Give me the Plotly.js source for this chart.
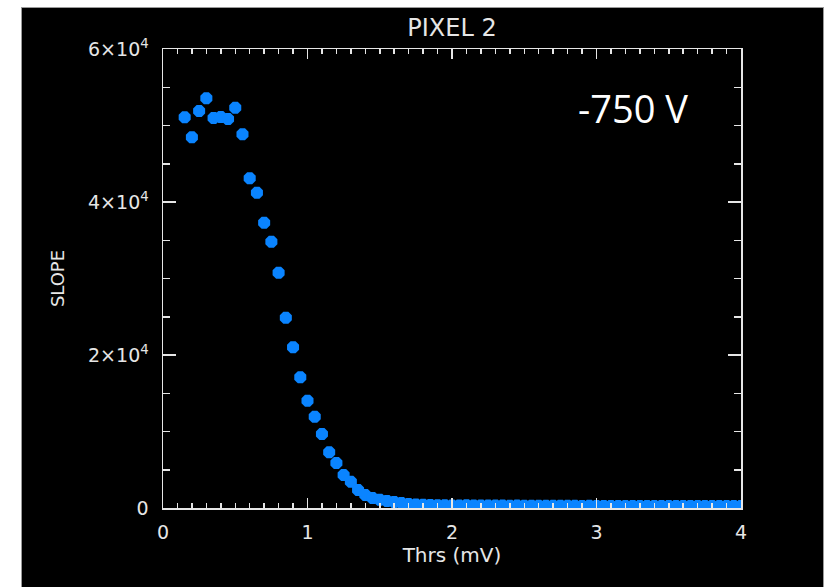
<!DOCTYPE html>
<html>
<head>
<meta charset="utf-8">
<script src="https://cdn.plot.ly/plotly-3.0.1.min.js"></script>
<style>
  html, body { margin: 0; padding: 0; background: #ffffff; width: 825px; height: 587px; overflow: hidden; }
  #frame { position: absolute; left: 22px; top: 8px; width: 801px; height: 579px; background: #000; box-shadow: 0 0 0 1px #9a9a9a; }
  #chart { position: absolute; left: 0; top: 0; width: 801px; height: 579px; }
</style>
</head>
<body>
<div id="frame"><div id="chart"></div></div>
<script>
// Threshold (mV)
const thrs = [
  0.15, 0.20, 0.25, 0.30, 0.35, 0.40, 0.45, 0.50, 0.55, 0.60,
  0.65, 0.70, 0.75, 0.80, 0.85, 0.90, 0.95, 1.00, 1.05, 1.10,
  1.15, 1.20, 1.25, 1.30, 1.35, 1.40, 1.45, 1.50, 1.55, 1.60,
  1.65, 1.70, 1.75, 1.80, 1.85, 1.90, 1.95, 2.00, 2.05, 2.10,
  2.15, 2.20, 2.25, 2.30, 2.35, 2.40, 2.45, 2.50, 2.55, 2.60,
  2.65, 2.70, 2.75, 2.80, 2.85, 2.90, 2.95, 3.00, 3.05, 3.10,
  3.15, 3.20, 3.25, 3.30, 3.35, 3.40, 3.45, 3.50, 3.55, 3.60,
  3.65, 3.70, 3.75, 3.80, 3.85, 3.90, 3.95, 4.00
];
// Slope values
const slope = [
  51070, 48460, 51900, 53560, 50980, 51110, 50850, 52330, 48850, 43100,
  41220, 37290, 34810, 30760, 24880, 21000, 17080, 14030, 11930, 9670,
  7280, 5880, 4310, 3440, 2350, 1700, 1300, 1080, 930, 790,
  650, 520, 460, 420, 380, 360, 350, 340, 330, 350,
  320, 330, 310, 320, 310, 300, 310, 290, 300, 290,
  290, 280, 280, 290, 280, 270, 280, 270, 270, 260,
  270, 260, 260, 270, 260, 260, 250, 260, 260, 250,
  260, 250, 250, 260, 250, 250, 250, 250
];
const yTickVals = [0, 20000, 40000, 60000];
const yTickText = ['0', '2\u00d710<sup>4</sup>', '4\u00d710<sup>4</sup>', '6\u00d710<sup>4</sup>'];
const xTickVals = [0, 1, 2, 3, 4];
const xTickText = ['0', '1', '2', '3', '4'];

const fg = '#e6e6e6';
const font = 'DejaVu Sans';

const trace = {
  x: thrs, y: slope, type: 'scatter', mode: 'markers',
  marker: { color: '#0a84ff', size: 13, symbol: 'octagon', line: { width: 0 } },
  cliponaxis: true, hoverinfo: 'skip'
};

const layout = {
  width: 801, height: 579,
  paper_bgcolor: '#000000', plot_bgcolor: '#000000',
  margin: { l: 141, r: 82, t: 41, b: 79 },
  showlegend: false,
  title: { text: 'PIXEL 2', font: { family: font, size: 24, color: fg }, xref: 'paper', x: 0.5, xanchor: 'center', yref: 'container', y: 0.967, yanchor: 'middle' },
  xaxis: {
    range: [0, 4], tickvals: xTickVals, ticktext: xTickText,
    showgrid: false, zeroline: false, showline: true, linecolor: fg, linewidth: 1.5,
    mirror: 'ticks', ticks: 'inside', ticklen: 10, tickwidth: 1.5, tickcolor: fg,
    minor: { dtick: 0.1, ticks: 'inside', ticklen: 5, tickwidth: 1.5, tickcolor: fg, showgrid: false },
    tickfont: { family: font, size: 19, color: fg }, ticklabelstandoff: 7,
    title: { text: 'Thrs (mV)', font: { family: font, size: 20, color: fg }, standoff: 5 }
  },
  yaxis: {
    range: [0, 60000], tickvals: yTickVals, ticktext: yTickText,
    showgrid: false, zeroline: false, showline: true, linecolor: fg, linewidth: 1.5,
    mirror: 'ticks', ticks: 'inside', ticklen: 13, tickwidth: 1.5, tickcolor: fg,
    minor: { dtick: 5000, ticks: 'inside', ticklen: 7, tickwidth: 1.5, tickcolor: fg, showgrid: false },
    tickfont: { family: font, size: 19, color: fg }, ticklabelstandoff: 9,
    title: { text: 'SLOPE', font: { family: font, size: 18, color: fg }, standoff: 18 }
  },
  annotations: [{
    text: '-750 V', xref: 'paper', yref: 'paper', x: 0.814, y: 0.871,
    xanchor: 'center', yanchor: 'middle', showarrow: false,
    font: { family: 'Open Sans', size: 38, color: '#ffffff' }
  }]
};

Plotly.newPlot('chart', [trace], layout, { displayModeBar: false, staticPlot: true });
</script>
</body>
</html>
